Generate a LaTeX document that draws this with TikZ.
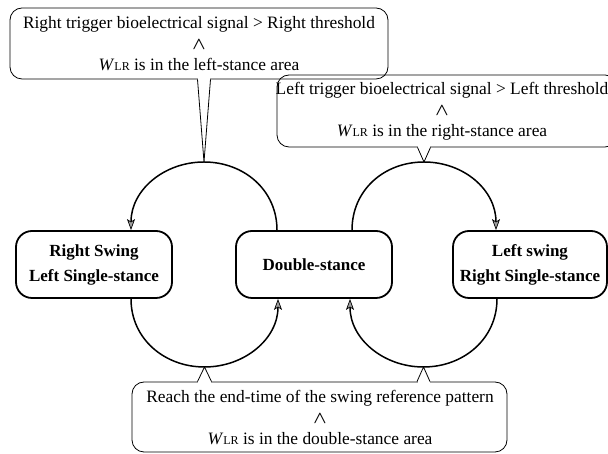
\documentclass[tikz,border=0pt]{standalone}
\usepackage{fontspec}
\setmainfont{Liberation Serif}
\usetikzlibrary{arrows.meta,calc}
\newcommand\wlr{\textit{W}{\fontsize{12}{12}\selectfont LR}}
\newcommand\andsym{{\fontsize{19}{21}\selectfont\boldmath$\wedge$}}
\tikzset{
  state/.style={draw, line width=1.8pt, rounded corners=16pt, minimum width=156pt,
    minimum height=67pt, align=center, inner sep=0pt,
    font=\fontsize{17}{25}\selectfont\bfseries},
  cbox/.style={draw, line width=0.8pt, rounded corners=12pt, inner sep=0pt},
  ctext/.style={align=center, inner sep=0pt, font=\fontsize{17.4}{21}\selectfont},
  loopline/.style={line width=1.5pt},
  tipped/.style={-{Stealth[length=11pt,width=8pt,inset=2.5pt,line width=0.7pt,fill=gray!75]}},
  ptr/.style={line width=0.8pt},
}
\begin{document}
\begin{tikzpicture}[x=1pt,y=1pt]
\clip (0,0) rectangle (608,454);
% states
\node[state] (rs) at (94,189.5) {Right Swing\\Left Single-stance};
\node[state] (ds) at (314,189.5) {Double-stance};
\node[state, minimum width=154pt] (ls) at (530,189.5) {Left swing\\Right Single-stance};
% loop apexes
\coordinate (aTL) at (204,292);
\coordinate (aTR) at (424,292);
\coordinate (aBL) at (204.5,87);
\coordinate (aBR) at (423.5,87);
% callout boxes
\node[cbox, minimum width=378pt, minimum height=71pt] (c1) at (199,410.5) {};
\node[cbox, minimum width=340pt, minimum height=72pt] (c2) at (447,343) {};
\node[cbox, minimum width=375pt, minimum height=70pt] (c3) at (319.5,37) {};
% callout texts
\node[ctext] (t1) at (199,410) {Right trigger bioelectrical signal > Right threshold\\\andsym\\\wlr{} is in the left-stance area};
\node[ctext] (t2) at (442,343) {Left trigger bioelectrical signal > Left threshold\\\andsym\\\wlr{} is in the right-stance area};
\node[ctext] (t3) at (320,36) {Reach the end-time of the swing reference pattern\\\andsym\\\wlr{} is in the double-stance area};
% callout pointers
\fill[white] ($(aTL |- c1.south)+(-6,-1)$) rectangle ($(aTL |- c1.south)+(6,1)$);
\draw[ptr] ($(aTL |- c1.south)+(-6.5,0)$) -- (aTL) -- ($(aTL |- c1.south)+(6.5,0)$);
\fill[white] ($(aTR |- c2.south)+(-6,-1)$) rectangle ($(aTR |- c2.south)+(6,1)$);
\draw[ptr] ($(aTR |- c2.south)+(-6.5,0)$) -- (aTR) -- ($(aTR |- c2.south)+(6.5,0)$);
\fill[white] ($(aBL |- c3.north)+(-6.5,-1)$) rectangle ($(aBL |- c3.north)+(6.5,1)$);
\draw[ptr] ($(aBL |- c3.north)+(-7,0)$) -- (aBL) -- ($(aBL |- c3.north)+(7,0)$);
\fill[white] ($(aBR |- c3.north)+(-6,-1)$) rectangle ($(aBR |- c3.north)+(6,1)$);
\draw[ptr] ($(aBR |- c3.north)+(-6.5,0)$) -- (aBR) -- ($(aBR |- c3.north)+(6.5,0)$);
% loops (near-circular arcs through the apexes)
\draw[loopline,tipped] ([xshift=-37pt]ds.north) .. controls +(0,40) and +(40,0) .. (aTL)
  .. controls +(-40,0) and +(0,40) .. ([xshift=37pt]rs.north);
\draw[loopline,tipped] ([xshift=38pt]ds.north) .. controls +(0,40) and +(-40,0) .. (aTR)
  .. controls +(40,0) and +(0,40) .. ([xshift=-34pt]ls.north);
\draw[loopline,tipped] ([xshift=37pt]rs.south) .. controls +(0,-40) and +(-40,0) .. (aBL)
  .. controls +(40,0) and +(0,-40) .. ([xshift=-36pt]ds.south);
\draw[loopline,tipped] ([xshift=-33pt]ls.south) .. controls +(0,-40) and +(40,0) .. (aBR)
  .. controls +(-40,0) and +(0,-40) .. ([xshift=36pt]ds.south);
\end{tikzpicture}
\end{document}
